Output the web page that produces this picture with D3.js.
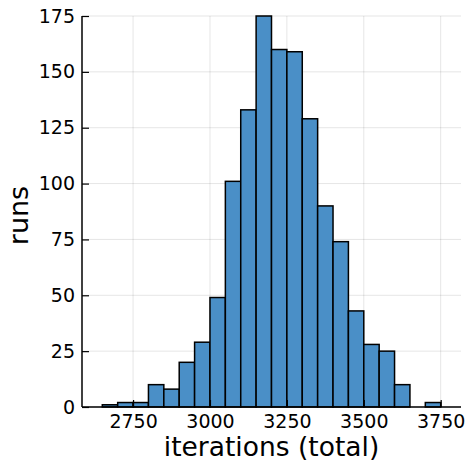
<!DOCTYPE html>
<html><head><meta charset="utf-8">
<script src="https://cdn.jsdelivr.net/npm/d3@7"></script>
<style>
html,body{margin:0;padding:0;background:#fff;}
svg{display:block;}
text{font-family:"DejaVu Sans",sans-serif;fill:#000;}
</style></head><body>
<svg id="c" width="467" height="465"></svg>
<script>
const binStarts = [2650,2700,2750,2800,2850,2900,2950,3000,3050,3100,3150,3200,3250,3300,3350,3400,3450,3500,3550,3600,3650,3700];
const binWidth = 50;
const counts = [1,2,2,10,8,20,29,49,101,133,175,160,159,129,90,74,43,28,25,10,0,2];
const xTicks = [2750,3000,3250,3500,3750];
const yTicks = [0,25,50,75,100,125,150,175];
const xLabel = "iterations (total)";
const yLabel = "runs";

const svg = d3.select("#c");
const L = 82, R = 461, T = 16, B = 407;
const x = d3.scaleLinear().domain([2584, 3816]).range([L, R]);
const y = d3.scaleLinear().domain([0, 175]).range([B, T]);

// grid
const g = svg.append("g");
g.selectAll("line.vx").data(xTicks).join("line")
  .attr("x1", d => x(d)).attr("x2", d => x(d)).attr("y1", T).attr("y2", B)
  .attr("stroke", "#000").attr("stroke-opacity", 0.1).attr("stroke-width", 1);
g.selectAll("line.hy").data(yTicks).join("line")
  .attr("x1", L).attr("x2", R).attr("y1", d => y(d)).attr("y2", d => y(d))
  .attr("stroke", "#000").attr("stroke-opacity", 0.1).attr("stroke-width", 1);

// bars
svg.append("g").selectAll("rect").data(binStarts.map((s, i) => ({s, c: counts[i]}))).join("rect")
  .attr("x", d => x(d.s)).attr("width", d => x(d.s + binWidth) - x(d.s))
  .attr("y", d => y(d.c)).attr("height", d => y(0) - y(d.c))
  .attr("fill", "#4a8fc7").attr("stroke", "#000").attr("stroke-width", 1.5);

// axes
const xa = svg.append("g").attr("transform", `translate(0,${B})`)
  .call(d3.axisBottom(x).tickValues(xTicks).tickSizeInner(-7).tickSizeOuter(0).tickPadding(8).tickFormat(d3.format("d")));
const ya = svg.append("g").attr("transform", `translate(${L},0)`)
  .call(d3.axisLeft(y).tickValues(yTicks).tickSizeInner(-7).tickSizeOuter(0).tickPadding(7).tickFormat(d3.format("d")));
[xa, ya].forEach(a => {
  a.select(".domain").attr("stroke", "#000").attr("stroke-width", 1.5);
  a.selectAll(".tick line").attr("stroke", "#000").attr("stroke-width", 1.2);
  a.selectAll(".tick text").attr("font-size", 19).attr("font-family", "DejaVu Sans").attr("fill", "#000");
});
xa.select(".domain").attr("d", `M${L},0H${R}`);
ya.select(".domain").attr("d", `M0,${B}V${T}`);

svg.append("text").attr("x", (L + R) / 2).attr("y", 456).attr("text-anchor", "middle")
  .attr("font-size", 26.5).text(xLabel);
svg.append("text").attr("transform", `translate(28,${(T + B) / 2 + 4}) rotate(-90)`).attr("text-anchor", "middle")
  .attr("font-size", 27).text(yLabel);
</script>
</body></html>
